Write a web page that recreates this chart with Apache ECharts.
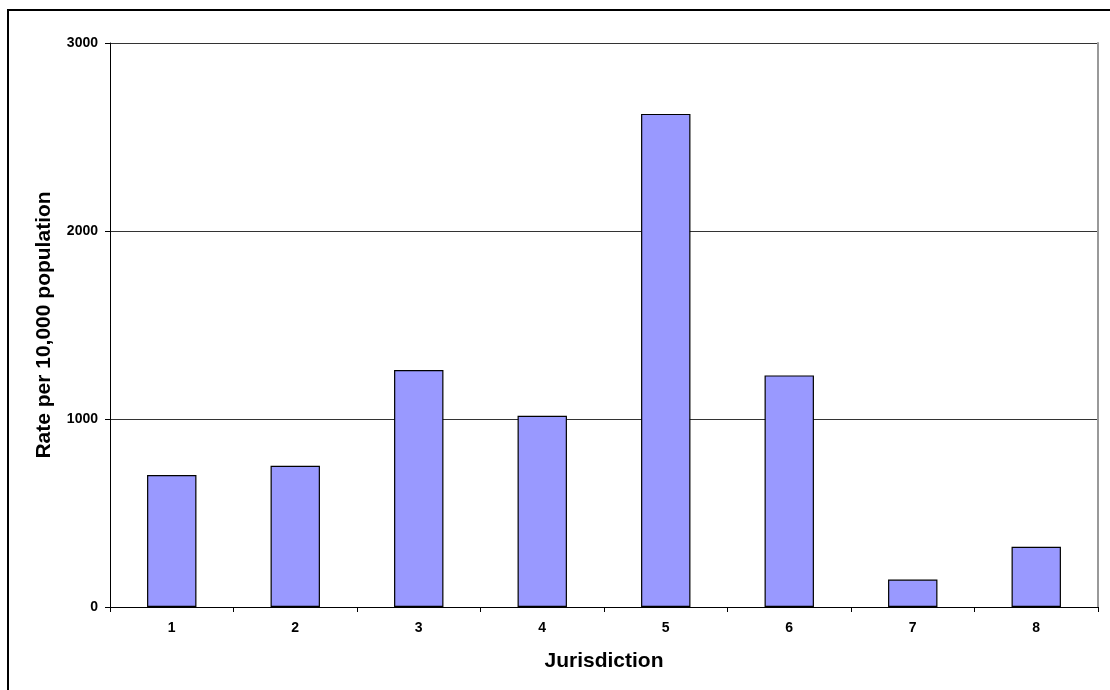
<!DOCTYPE html>
<html><head><meta charset="utf-8">
<script src="https://cdn.jsdelivr.net/npm/echarts@6/dist/echarts.min.js"></script>
<style>html,body{margin:0;padding:0;background:#fff;}#c{width:1110px;height:690px;}</style>
</head><body><div id="c"></div>
<script>
const categories = ['1','2','3','4','5','6','7','8'];
const values = [702, 751, 1260, 1017, 2623, 1232, 146, 320];
const yTicks = [0, 1000, 2000, 3000];

const chart = echarts.init(document.getElementById('c'), null, {renderer:'canvas'});
chart.setOption({
  animation:false,
  backgroundColor:'#fff',
  graphic:[{type:'rect', shape:{x:8,y:10,width:1300,height:900}, style:{fill:'none', stroke:'#000', lineWidth:2}, z:100}],
  grid:{left:110, right:12, top:43, bottom:83, containLabel:false},
  xAxis:{
    type:'category', data:categories,
    name:'Jurisdiction', nameLocation:'middle', nameGap:44,
    nameTextStyle:{fontFamily:'Liberation Sans, Arial', fontWeight:'bold', fontSize:21, color:'#000'},
    axisLine:{lineStyle:{color:'#000', width:1}},
    axisTick:{show:true, length:5, alignWithLabel:false, lineStyle:{color:'#000'}},
    axisLabel:{fontFamily:'Liberation Sans, Arial', fontWeight:'bold', fontSize:14, color:'#000', margin:14}
  },
  yAxis:[{
    type:'value', min:yTicks[0], max:yTicks[yTicks.length-1], interval:1000,
    name:'Rate per 10,000 population', nameLocation:'middle', nameGap:55,
    nameTextStyle:{fontFamily:'Liberation Sans, Arial', fontWeight:'bold', fontSize:21, color:'#000'},
    axisLine:{show:true, lineStyle:{color:'#000', width:1}},
    axisTick:{show:true, length:5, lineStyle:{color:'#000'}},
    axisLabel:{fontFamily:'Liberation Sans, Arial', fontWeight:'bold', fontSize:14, color:'#000', margin:12,
      formatter:function(v){return String(v);}},
    splitLine:{show:true, lineStyle:{color:'#333', width:1}}
  },{
    type:'value', min:0, max:3000, interval:1000, position:'right',
    axisLine:{show:true, lineStyle:{color:'#999', width:2}},
    axisTick:{show:false}, axisLabel:{show:false}, splitLine:{show:false}
  }],
  series:[{
    type:'bar', data:values, barWidth:'40%',
    itemStyle:{color:'#9999FF', borderColor:'#000', borderWidth:1.2}
  }]
});
</script></body></html>
